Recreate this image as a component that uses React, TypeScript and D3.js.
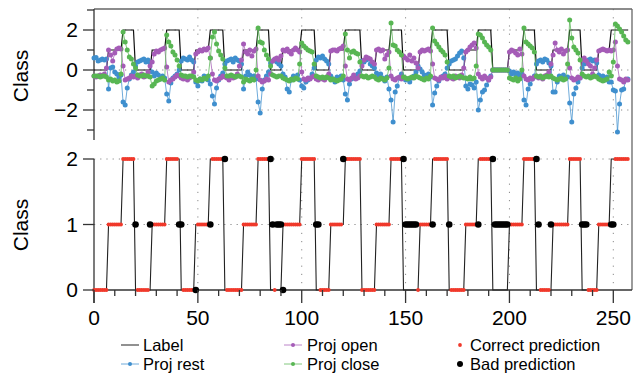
import React from 'react'
import * as d3 from 'd3'

// label as runs of [class, number of samples]
const labelRuns: [number, number][] = [
    [0, 7], [1, 7], [2, 6], [0, 8], [1, 7], [2, 7], [0, 7], [1, 7], [2, 7],
    [0, 9], [1, 7], [2, 6], [0, 6], [1, 9], [2, 7], [0, 7], [1, 7], [2, 8],
    [0, 7], [1, 7], [2, 6], [0, 8], [1, 6], [2, 8], [0, 8], [1, 6], [2, 7],
    [0, 8], [1, 7], [2, 6], [0, 8], [1, 8], [2, 6], [0, 8], [1, 6], [2, 9],
]

// projections, one line per label run
const projRest = [
    0.6, 0.62, 0.45, 0.5, 0.55, 0.5, 0.55,
    -0.95, 0.1, 0.15, -0.1, -0.2, -0.35, -0.25,
    -1.6, -1.75, -0.9, -0.45, -0.25, -0.1,
    0.2, 0.4, 0.45, 0.5, 0.55, 0.4, 0.5, 0.35,
    -0.1, -0.3, -0.15, -0.25, -0.45, -0.3, -0.4,
    -1.2, -1.55, -0.65, -0.4, -0.3, -0.2, 0.0,
    0.45, 0.6, 0.55, 0.5, 0.65, 0.5, 0.4,
    -0.6, -0.8, -0.45, -0.55, -0.3, -0.35, -0.5,
    -0.7, -1.3, -1.7, -0.9, -0.5, -0.3, -0.15,
    0.3, 0.45, 0.5, 0.55, 0.4, 0.6, 0.5, 0.45, 0.3,
    -0.95, -0.3, -0.1, -0.25, -0.4, -0.3, -0.45,
    -1.6, -2.15, -0.95, -0.5, -0.3, -0.1,
    0.35, 0.45, 0.5, 0.4, 0.3, 0.2,
    -0.2, -0.35, -0.95, -1.1, -0.5, -0.3, -0.4, -0.25, -0.5,
    -0.8, -0.9, -0.6, -0.5, -0.4, -0.2, 0.1,
    0.5, 0.65, 0.6, 0.7, 0.55, 0.45, 0.3,
    -0.3, -0.45, -0.6, -0.35, -0.4, -0.3, -0.5,
    -1.2, -1.5, -0.7, -0.45, -0.35, -0.3, -0.2, -0.05,
    0.45, 0.4, 0.5, 0.55, 0.3, 0.2, 0.1,
    -0.15, -0.3, -0.2, -0.4, -0.55, -0.35, -0.95,
    -1.5, -2.6, -1.1, -0.8, -0.4, -0.2,
    -0.35, -0.5, -0.45, -0.6, -0.4, -0.3, -0.1, 0.2,
    0.05, -0.1, -0.25, -0.3, -0.2, -0.35,
    -1.75, -1.15, -0.8, -0.55, -0.4, -0.3, -0.2, 0.1,
    0.3, 0.45, 0.5, 0.55, 0.7, 0.85, 0.95, 0.6,
    -0.8, -0.95, -0.7, -0.75, -0.9, -0.6,
    -2.0, -1.5, -1.1, -1.0, -0.75, -0.5, -0.3,
    0, 0, 0, 0, 0, 0, 0, 0,
    -0.05, -0.2, -0.1, -0.25, -0.15, -0.3, -0.2,
    -1.5, -1.75, -0.95, -0.7, -0.45, -0.3,
    0.3, 0.45, 0.5, 0.4, 0.55, 0.5, 0.35, 0.2,
    -1.1, -1.1, -0.6, -0.3, -0.45, -0.25, -0.4, -0.35,
    -1.65, -2.6, -1.2, -0.9, -0.6, -0.4,
    0.1, 0.3, 0.4, 0.5, 0.55, 0.45, 0.5, 0.35,
    -0.25, -0.4, -0.3, -0.5, -0.35, -0.6,
    -0.6, -1.0, -1.05, -3.1, -1.7, -1.0, -0.95, -0.5, -0.45,
]

const projOpen = [
    -0.3, -0.35, -0.3, -0.25, -0.3, -0.2, 0.1,
    1.0, 0.75, 0.45, 0.85, 1.05, 1.1, 1.05,
    0.2, -0.5, -0.45, -0.4, -0.3, -0.35,
    -0.3, -0.4, -0.25, -0.2, -0.35, -0.3, -0.1, 0.2,
    0.4, 0.8, 0.95, 0.9, 1.0, 1.05, 1.1,
    0.15, -0.6, -0.5, -0.45, -0.35, -0.25, -0.3,
    -0.4, -0.45, -0.35, -0.5, -0.4, -0.3, -0.1,
    0.8, 0.9, 1.0, 0.95, 1.05, 1.0, 1.1,
    0.6, -0.2, -0.5, -0.55, -0.45, -0.4, -0.3,
    -0.35, -0.4, -0.5, -0.3, -0.4, -0.35, -0.2, 0.2, 0.5,
    1.3, 0.9, 0.8, 1.0, 0.7, 0.95, 1.05,
    -0.3, -0.5, -0.6, -0.55, -0.45, -0.5,
    -0.2, 0.45, 0.55, 0.6, 0.5, 0.7,
    1.0, 0.95, 1.05, 0.9, 0.8, 1.0, 1.1, 1.0, 0.9,
    -0.1, -0.45, -0.5, -0.4, -0.45, -0.35, -0.3,
    -0.45, -0.5, -0.4, -0.45, -0.5, -0.35, -0.2,
    0.95, 1.0, 1.0, 0.95, 1.05, 1.1, 1.2,
    0.2, -0.45, -0.5, -0.4, -0.25, -0.45, -0.4, -0.3,
    0.2, 0.5, 0.65, 0.6, 0.55, 0.4, 0.3,
    1.0, 1.05, 0.95, 1.0, 0.55, 0.75, 0.9,
    -0.3, -0.45, -0.5, -0.4, -0.35, -0.45,
    0.7, 0.6, 0.5, 0.75, 0.45, 0.6, 0.35, 0.1,
    0.9, 1.0, 0.95, 1.0, 1.05, 0.95,
    0.3, -0.4, -0.45, -0.5, -0.35, -0.4, -0.3, -0.45,
    -0.35, -0.4, -0.45, -0.3, -0.35, -0.4, -0.25, 0.1,
    0.9, 1.0, 1.15, 1.25, 1.35, 1.1,
    -0.2, -0.35, -0.45, -0.3, -0.4, -0.5, -0.35,
    0, 0, 0, 0, 0, 0, 0, 0,
    0.9, 1.0, 0.95, 0.85, 0.75, 1.05, 0.8,
    -0.3, -0.45, -0.5, -0.4, -0.45, -0.35,
    -0.3, -0.4, -0.35, -0.45, -0.3, -0.25, -0.1, 0.3,
    0.75, 1.35, 1.0, 0.9, 1.05, 0.8, 0.95, 1.0,
    0.1, -0.4, -0.5, -0.45, -0.35, -0.4,
    0.5, 0.6, 0.45, 0.3, 0.2, -0.2, 0.1, 0.5,
    0.95, 1.0, 1.05, 1.0, 0.95, 1.0,
    0.95, 1.0, 1.4, 0.2, -0.45, -0.5, -0.6, -0.45, -0.5,
]

const projClose = [
    -0.3, -0.3, -0.3, -0.35, -0.3, -0.3, -0.35,
    -0.5, -0.45, -0.55, -0.5, -0.6, -0.55, -0.2,
    1.9, 1.4, 1.0, 0.65, 0.55, 0.3,
    0.1, -0.25, -0.3, -0.3, -0.25, -0.3, -0.3, -0.35,
    -0.8, -0.7, -0.55, -0.5, -0.45, -0.4, -0.5,
    1.75, 1.4, 1.2, 0.9, 0.75, 0.5, 0.2,
    -0.25, -0.3, -0.3, -0.35, -0.3, -0.3, -0.35,
    -0.5, -0.55, -0.45, -0.5, -0.4, -0.45, -0.3,
    0.6, 1.65, 1.9, 1.3, 0.95, 0.75, 0.55,
    0.1, -0.3, -0.3, -0.25, -0.3, -0.35, -0.3, -0.3, -0.35,
    -0.6, -0.45, -0.5, -0.55, -0.45, -0.5, 0.0,
    2.1, 1.4, 1.35, 1.0, 0.75, 0.55,
    0.2, -0.25, -0.3, -0.35, -0.3, -0.3,
    -0.4, -0.45, -0.5, -0.55, -0.45, -0.5, -0.4, -0.45, 0.3,
    1.35, 1.2, 1.1, 1.0, 0.95, 0.9, 0.3,
    -0.3, -0.35, -0.4, -0.35, -0.4, -0.35, -0.4,
    -0.5, -0.45, -0.5, -0.55, -0.5, -0.45, -0.3,
    1.8, 1.0, 0.6, 0.9, 0.95, 0.85, 0.8, 0.4,
    -0.3, -0.35, -0.3, -0.4, -0.35, -0.3, -0.35,
    -0.45, -0.5, -0.4, -0.45, -0.5, -0.4, 0.1,
    2.35, 1.25, 1.2, 1.0, 0.9, 0.75,
    -0.35, -0.4, -0.45, -0.4, -0.35, -0.4, -0.3, -0.35,
    -0.4, -0.45, -0.5, -0.4, -0.45, -0.3,
    2.1, 1.45, 1.3, 1.15, 1.0, 0.9, 0.75, 0.4,
    -0.3, -0.35, -0.3, -0.4, -0.35, -0.3, -0.35, -0.4,
    -0.4, -0.45, -0.35, -0.45, -0.4, 0.2,
    1.8, 1.75, 1.6, 1.4, 1.25, 1.15, 1.0,
    0, 0, 0, 0, 0, 0, 0, 0,
    -0.4, -0.45, -0.5, -0.4, -0.55, -0.45, 0.0,
    2.1, 1.4, 1.3, 1.2, 1.1, 0.9,
    -0.3, -0.35, -0.3, -0.4, -0.35, -0.3, -0.35, -0.3,
    -0.4, -0.45, -0.5, -0.45, -0.4, -0.5, -0.45, 0.3,
    2.5, 1.6, 1.15, 1.0, 0.85, 0.5,
    -0.2, -0.3, -0.35, -0.3, -0.4, -0.35, -0.3, -0.35,
    -0.45, -0.5, -0.55, -0.5, -0.45, -0.1,
    -0.3, 0.4, 2.3, 2.2, 2.05, 1.9, 1.7, 1.5, 1.4,
]

// wrong predictions: [sample index, predicted class]
const badPredictions: [number, number][] = [
    [20, 1], [27, 1], [41, 1], [42, 1], [49, 0], [56, 1], [63, 2],
    [85, 2], [86, 1], [88, 1], [89, 1], [90, 1], [91, 0], [107, 1], [108, 1],
    [120, 2], [149, 2], [150, 1], [151, 1], [152, 1], [153, 1], [154, 1], [155, 1],
    [163, 1], [171, 1], [185, 1], [192, 2], [193, 1], [194, 1], [195, 1], [196, 1],
    [197, 1], [198, 1], [199, 1], [213, 2], [214, 1], [220, 1], [235, 1], [236, 1],
    [237, 1], [249, 1], [250, 1],
]

const xTicks = [0, 50, 100, 150, 200, 250]
const topTicks = [-2, 0, 2]
const topMinorTicks = [-3, -1, 1, 3]
const bottomTicks = [0, 1, 2]

const BLUE = '#3f8fce'
const PURPLE = '#a55cb7'
const GREEN = '#58b653'
const RED = '#f0392b'
const FONT = 'Liberation Sans, Arial, Helvetica, sans-serif'

const App: React.FC = () => {
    const label = labelRuns.flatMap(([v, n]) => Array.from({ length: n }, () => v))
    const bad = new Map(badPredictions)

    const x = d3.scaleLinear().domain([0, 259]).range([94, 632])
    const yTop = d3.scaleLinear().domain([-3.5, 3.05]).range([140, 9])
    const yBot = d3.scaleLinear().domain([0, 2]).range([290, 159])

    const lineTop = d3.line<number>().x((_, i) => x(i)).y((v) => yTop(v))
    const lineBot = d3.line<number>().x((_, i) => x(i)).y((v) => yBot(v))

    const series = [
        { name: 'Proj rest', values: projRest, color: BLUE },
        { name: 'Proj open', values: projOpen, color: PURPLE },
        { name: 'Proj close', values: projClose, color: GREEN },
    ]

    const minorX = d3.range(10, 259, 10).filter((t) => t % 50 !== 0)
    const grid = '#8a8a8a'
    const row1 = 345
    const row2 = 364

    return (
        <svg width={635} height={376} style={{ position: 'absolute', left: 0, top: 0, background: '#fff' }} fontFamily={FONT}>
            {/* gridlines */}
            {topTicks.map((t) => (
                <line key={'gh' + t} x1={x(0)} x2={632} y1={yTop(t)} y2={yTop(t)} stroke={grid} strokeDasharray="1.2,5" />
            ))}
            {[1, 2].map((t) => (
                <line key={'gb' + t} x1={x(0)} x2={632} y1={yBot(t)} y2={yBot(t)} stroke={grid} strokeDasharray="1.2,5" />
            ))}
            {xTicks.slice(1).map((t) => (
                <g key={'gv' + t}>
                    <line x1={x(t)} x2={x(t)} y1={9} y2={140} stroke={grid} strokeDasharray="1.2,7" />
                    <line x1={x(t)} x2={x(t)} y1={159} y2={290} stroke={grid} strokeDasharray="1.2,7" />
                </g>
            ))}

            {/* frame */}
            <line x1={94} x2={632} y1={9} y2={9} stroke="#666" strokeWidth={1.3} />
            <line x1={632} x2={632} y1={9} y2={290} stroke="#666" strokeWidth={1.3} />
            <line x1={94} x2={94} y1={9} y2={140} stroke="#333" strokeWidth={1.3} />
            <line x1={94} x2={94} y1={159} y2={303} stroke="#333" strokeWidth={1.3} />
            <line x1={94} x2={632} y1={290} y2={290} stroke="#333" strokeWidth={1.3} />

            {/* top panel */}
            <path d={lineTop(label) ?? ''} fill="none" stroke="#111" strokeWidth={1.2} />
            {series.map((s) => (
                <g key={s.name}>
                    <path d={lineTop(s.values) ?? ''} fill="none" stroke={s.color} strokeOpacity={0.75} strokeWidth={1} />
                    {s.values.map((v, i) => (
                        <circle key={i} cx={x(i)} cy={yTop(v)} r={2.5} fill={s.color} />
                    ))}
                </g>
            ))}

            {/* bottom panel */}
            <path d={lineBot(label) ?? ''} fill="none" stroke="#222" strokeWidth={1.1} />
            {label.map((v, i) =>
                bad.has(i) ? null : <circle key={'c' + i} cx={x(i)} cy={yBot(v)} r={1.9} fill={RED} />
            )}
            {badPredictions.map(([i, p]) => (
                <circle key={'b' + i} cx={x(i)} cy={yBot(p)} r={3.3} fill="#000" />
            ))}

            {/* y axes */}
            {topTicks.map((t) => (
                <g key={'yt' + t}>
                    <line x1={83} x2={94} y1={yTop(t)} y2={yTop(t)} stroke="#333" strokeWidth={1.3} />
                    <text x={78} y={yTop(t)} dy="0.35em" textAnchor="end" fontSize={21}>
                        {t < 0 ? '\u2212' + Math.abs(t) : t}
                    </text>
                </g>
            ))}
            {topMinorTicks.map((t) => (
                <line key={'ym' + t} x1={87} x2={94} y1={yTop(t)} y2={yTop(t)} stroke="#333" strokeWidth={1.3} />
            ))}
            {bottomTicks.map((t) => (
                <g key={'yb' + t}>
                    <line x1={83} x2={94} y1={yBot(t)} y2={yBot(t)} stroke="#333" strokeWidth={1.3} />
                    <text x={78} y={yBot(t)} dy="0.35em" textAnchor="end" fontSize={21}>
                        {t}
                    </text>
                </g>
            ))}
            <text transform="translate(28,76) rotate(-90)" textAnchor="middle" fontSize={21}>Class</text>
            <text transform="translate(28,225) rotate(-90)" textAnchor="middle" fontSize={21}>Class</text>

            {/* x axis */}
            {minorX.map((t) => (
                <line key={'xm' + t} x1={x(t)} x2={x(t)} y1={290} y2={296} stroke="#333" strokeWidth={1.3} />
            ))}
            {xTicks.map((t) => (
                <g key={'xt' + t}>
                    <line x1={x(t)} x2={x(t)} y1={290} y2={303} stroke="#333" strokeWidth={1.3} />
                    <text x={x(t)} y={325} textAnchor="middle" fontSize={21}>
                        {t}
                    </text>
                </g>
            ))}

            {/* legend */}
            <g fontSize={16.5}>
                <line x1={121} x2={139} y1={row1} y2={row1} stroke="#555" strokeWidth={1.3} />
                <text x={143} y={row1} dy="0.35em">Label</text>
                <line x1={121} x2={139} y1={row2} y2={row2} stroke={BLUE} strokeOpacity={0.75} />
                <circle cx={130} cy={row2} r={2} fill={BLUE} />
                <text x={143} y={row2} dy="0.35em">Proj rest</text>

                <line x1={284} x2={302} y1={row1} y2={row1} stroke={PURPLE} strokeOpacity={0.75} />
                <circle cx={293} cy={row1} r={2} fill={PURPLE} />
                <text x={307} y={row1} dy="0.35em">Proj open</text>
                <line x1={284} x2={302} y1={row2} y2={row2} stroke={GREEN} strokeOpacity={0.75} />
                <circle cx={293} cy={row2} r={2} fill={GREEN} />
                <text x={307} y={row2} dy="0.35em">Proj close</text>

                <circle cx={460} cy={row1} r={1.9} fill={RED} />
                <text x={470} y={row1} dy="0.35em">Correct prediction</text>
                <circle cx={460} cy={row2} r={3} fill="#000" />
                <text x={470} y={row2} dy="0.35em">Bad prediction</text>
            </g>
        </svg>
    )
}

export default App
